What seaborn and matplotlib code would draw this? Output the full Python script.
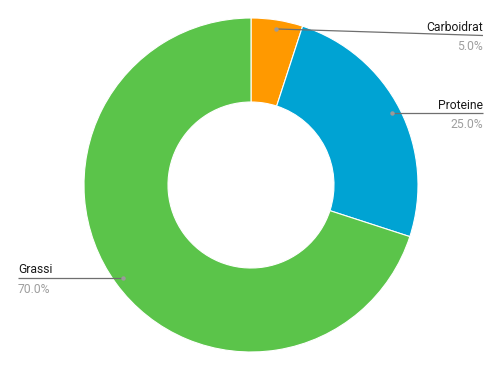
import numpy as np
import matplotlib
matplotlib.use("Agg")
import matplotlib.pyplot as plt
import seaborn as sns

categories = ["Carboidrat", "Proteine", "Grassi"]
values = [5.0, 25.0, 70.0]
pct_labels = ["5.0%", "25.0%", "70.0%"]
colors = ["#FF9900", "#00A3D3", "#5BC44A"]

sns.set_theme(style="white")
plt.rcParams["font.family"] = ["Roboto", "DejaVu Sans"]

W, H = 502, 371
cx, cy, R, hole = 251, 185, 167, 83

fig = plt.figure(figsize=(W / 100, H / 100), dpi=100)
ax = fig.add_axes([0, 0, 1, 1])
palette = sns.color_palette(colors)
ax.pie(values, colors=palette, startangle=-90, counterclock=True,
       center=(cx, cy), radius=R,
       wedgeprops=dict(width=R - hole, edgecolor="white", linewidth=0.8))
ax.set_xlim(0, W)
ax.set_ylim(H, 0)
ax.set_aspect("equal")
ax.axis("off")

# label layout: anchor angle (clockwise from top), side, end-of-leader y
total = sum(values)
mids = []
acc = 0
for v in values:
    mids.append((acc + v / 2) / total * 360)
    acc += v
anchor_angles = [mids[0], mids[1], 234]
sides = ["right", "right", "left"]
line_end_y = [35.5, None, None]
r_anchor = 158
fs = 8.7
for i, name in enumerate(categories):
    a = np.deg2rad(anchor_angles[i])
    px = cx + r_anchor * np.sin(a)
    py = cy - r_anchor * np.cos(a)
    ey = line_end_y[i] if line_end_y[i] is not None else py
    ex = 483 if sides[i] == "right" else 18
    ax.plot([px, ex], [py, ey], color="#6f6f6f", lw=0.9, solid_capstyle="butt")
    ax.plot([px], [py], "o", color="#9a9a9a", ms=3.2, mec="none")
    ha = "right" if sides[i] == "right" else "left"
    ax.text(ex, ey - 4.5, name, ha=ha, va="baseline", fontsize=fs, color="#1a1a1a")
    ax.text(ex, ey + 5.0, pct_labels[i], ha=ha, va="top", fontsize=fs, color="#9e9e9e")

fig.savefig("out.png", dpi=100, facecolor="white")
